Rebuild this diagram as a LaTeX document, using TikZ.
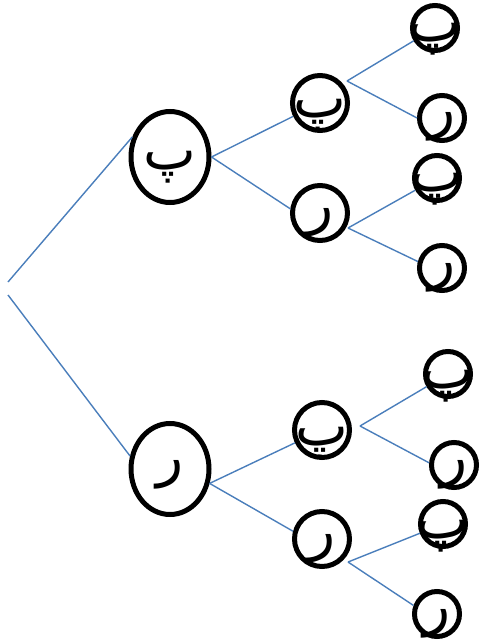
\documentclass[tikz,border=0pt]{standalone}
\usepackage{fontspec}
\newfontfamily\arabicfont[Script=Arabic]{DejaVu Sans}
\TeXXeTstate=1
\usetikzlibrary{shapes.geometric}
\definecolor{branchblue}{RGB}{74,126,187}
\tikzset{
  bigbox/.style={draw, line width=5pt, ellipse, minimum width=78pt, minimum height=91pt, inner sep=0pt},
  midbox/.style={draw, line width=5pt, circle, minimum size=55pt, inner sep=0pt},
  smallbox/.style={draw, line width=5pt, circle, minimum size=45pt, inner sep=0pt},
  branch/.style={draw=branchblue, line width=1.4pt},
}
% letter, centred, with no size of its own
\newcommand{\harf}[2]{\raisebox{#2}[0pt][0pt]{\makebox[0pt]{\fontsize{56}{56}\selectfont\arabicfont\beginR #1\endR}}}

\begin{document}
\begin{tikzpicture}[x=1pt, y=-1pt]
  \useasboundingbox (0,0) rectangle (484,644);
  % first level
  \node[bigbox] (p) at (170,157) {\harf{پ}{-13pt}};
  \node[bigbox] (r) at (170,469) {\harf{ر}{-6pt}};
  % second level
  \node[midbox] (pp) at (320,103) {\harf{پ}{-15pt}};
  \node[midbox] (pr) at (320,213) {\harf{ر}{-10pt}};
  \node[midbox] (rp) at (322,430) {\harf{پ}{-15pt}};
  \node[midbox] (rr) at (322,539) {\harf{ر}{-10pt}};
  % third level
  \node[smallbox] (ppp) at (435,28) {\harf{پ}{-14pt}};
  \node[smallbox] (ppr) at (442,118) {\harf{ر}{-10pt}};
  \node[smallbox] (prp) at (437,178) {\harf{پ}{-14pt}};
  \node[smallbox] (prr) at (442,268) {\harf{ر}{-10pt}};
  \node[smallbox] (rpp) at (448,374) {\harf{پ}{-14pt}};
  \node[smallbox] (rpr) at (454,465) {\harf{ر}{-10pt}};
  \node[smallbox] (rrp) at (443,524) {\harf{پ}{-14pt}};
  \node[smallbox] (rrr) at (437,614) {\harf{ر}{-10pt}};
  % forks
  \coordinate (top) at (8,282);
  \coordinate (bottom) at (8,295);
  \coordinate (ppfork) at (347,81);
  \coordinate (prfork) at (348,228);
  \coordinate (rpfork) at (360,426);
  \coordinate (rrfork) at (348,562);
  % branches
  \draw[branch] (top) -- (p.152);
  \draw[branch] (bottom) -- (r.162);
  \draw[branch] (p.east) -- (pp);
  \draw[branch] (p.east) -- (pr.172);
  \draw[branch] (r.-20) -- (rp);
  \draw[branch] (r.-20) -- (rr.165);
  \draw[branch] (ppfork) -- (ppp);
  \draw[branch] (ppfork) -- (ppr.180);
  \draw[branch] (prfork) -- (prp);
  \draw[branch] (prfork) -- (prr.165);
  \draw[branch] (rpfork) -- (rpp);
  \draw[branch] (rpfork) -- (rpr.175);
  \draw[branch] (rrfork) -- (rrp);
  \draw[branch] (rrfork) -- (rrr.160);
\end{tikzpicture}
\end{document}
